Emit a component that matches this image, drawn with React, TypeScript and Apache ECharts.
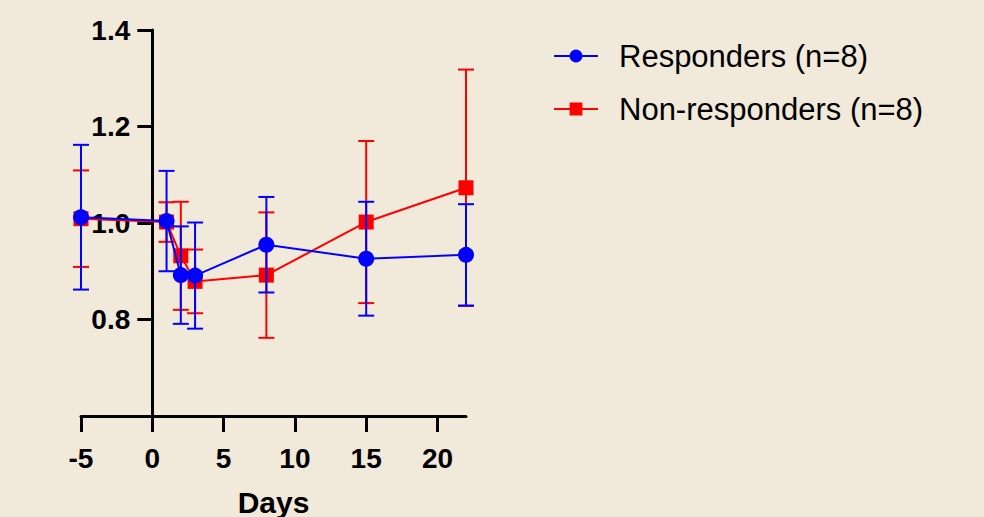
import React, { useEffect, useRef } from "react";
import * as echarts from "echarts";

const days = [-5, 1, 2, 3, 8, 15, 22];
const respMean = [1.012, 1.004, 0.892, 0.891, 0.955, 0.926, 0.934];
const respSD = [0.15, 0.104, 0.101, 0.11, 0.099, 0.118, 0.105];
const nonMean = [1.009, 1.002, 0.932, 0.879, 0.892, 1.002, 1.073];
const nonSD = [0.1, 0.041, 0.112, 0.066, 0.13, 0.168, 0.245];
const xTicks = [-5, 0, 5, 10, 15, 20];
const yTicks = [0.8, 1.0, 1.2, 1.4];
const respName = "Responders (n=8)";
const nonName = "Non-responders (n=8)";

const FONT = "'Liberation Sans', Arial, Helvetica, sans-serif";
const BLUE = "#0000ff";
const RED = "#ff0000";

function errorSeries(mean: number[], sd: number[], color: string, z: number) {
  return {
    type: "custom",
    name: color + "-err",
    z,
    silent: true,
    encode: { x: 0, y: [1, 2] },
    data: days.map((d, i) => [d, mean[i] - sd[i], mean[i] + sd[i]]),
    renderItem: (params: any, api: any) => {
      const x = api.value(0);
      const lo = api.coord([x, api.value(1)]);
      const hi = api.coord([x, api.value(2)]);
      const hw = 8;
      const style = { stroke: color, lineWidth: 2 };
      return {
        type: "group",
        children: [
          { type: "line", shape: { x1: hi[0], y1: hi[1], x2: lo[0], y2: lo[1] }, style },
          { type: "line", shape: { x1: hi[0] - hw, y1: hi[1], x2: hi[0] + hw, y2: hi[1] }, style },
          { type: "line", shape: { x1: lo[0] - hw, y1: lo[1], x2: lo[0] + hw, y2: lo[1] }, style },
        ],
      };
    },
  };
}

const GRID_LEFT = 81;
const GRID_RIGHT = 518;
const X_MIN = -5;
const X_MAX = 22;

export default function App() {
  const ref = useRef<HTMLDivElement>(null);
  useEffect(() => {
    if (!ref.current) return;
    const chart = echarts.init(ref.current, null, { renderer: "svg" });
    const plotW = 984 - GRID_LEFT - GRID_RIGHT;
    const zeroOffset = ((0 - X_MIN) / (X_MAX - X_MIN)) * plotW;
    chart.setOption({
      animation: false,
      backgroundColor: "#f1e9d9",
      grid: {
        left: GRID_LEFT,
        right: GRID_RIGHT,
        top: 30,
        bottom: 101,
        containLabel: false,
        outerBoundsMode: "none",
      },
      legend: {
        data: [respName, nonName],
        orient: "vertical",
        left: 548,
        top: 35,
        itemWidth: 44,
        itemHeight: 16,
        itemGap: 21,
        textStyle: {
          fontFamily: FONT,
          fontSize: 31,
          color: "#000",
          lineHeight: 32,
          padding: [0, 0, 0, 16],
        },
      },
      xAxis: {
        type: "value",
        min: X_MIN,
        max: X_MAX,
        name: "Days",
        nameLocation: "middle",
        nameGap: 71,
        nameTextStyle: { fontFamily: FONT, fontSize: 30, fontWeight: "bold", color: "#000" },
        splitLine: { show: false },
        axisLine: { onZero: false, lineStyle: { color: "#000", width: 3 } },
        axisTick: { length: 16, lineStyle: { color: "#000", width: 3 }, customValues: xTicks },
        axisLabel: {
          customValues: xTicks,
          margin: 28,
          fontFamily: FONT,
          fontSize: 28,
          fontWeight: "bold",
          color: "#000",
        },
      },
      yAxis: {
        type: "value",
        min: 0.6,
        max: 1.4,
        offset: -zeroOffset,
        splitLine: { show: false },
        axisLine: { onZero: false, lineStyle: { color: "#000", width: 3 } },
        axisTick: { length: 15, lineStyle: { color: "#000", width: 3 }, customValues: yTicks },
        axisLabel: {
          customValues: yTicks,
          margin: 22,
          fontFamily: FONT,
          fontSize: 28,
          fontWeight: "bold",
          color: "#000",
          formatter: (v: number) => v.toFixed(1),
        },
      },
      series: [
        errorSeries(nonMean, nonSD, RED, 1),
        {
          type: "line",
          name: nonName,
          z: 2,
          data: days.map((d, i) => [d, nonMean[i]]),
          symbol: "rect",
          symbolSize: 15,
          itemStyle: { color: RED },
          lineStyle: { color: RED, width: 2 },
        },
        errorSeries(respMean, respSD, BLUE, 3),
        {
          type: "line",
          name: respName,
          z: 4,
          data: days.map((d, i) => [d, respMean[i]]),
          symbol: "circle",
          symbolSize: 16,
          itemStyle: { color: BLUE },
          lineStyle: { color: BLUE, width: 2 },
        },
      ],
    });
    return () => chart.dispose();
  }, []);
  return (
    <div
      ref={ref}
      style={{ position: "absolute", left: 0, top: 0, width: 984, height: 517 }}
    />
  );
}
